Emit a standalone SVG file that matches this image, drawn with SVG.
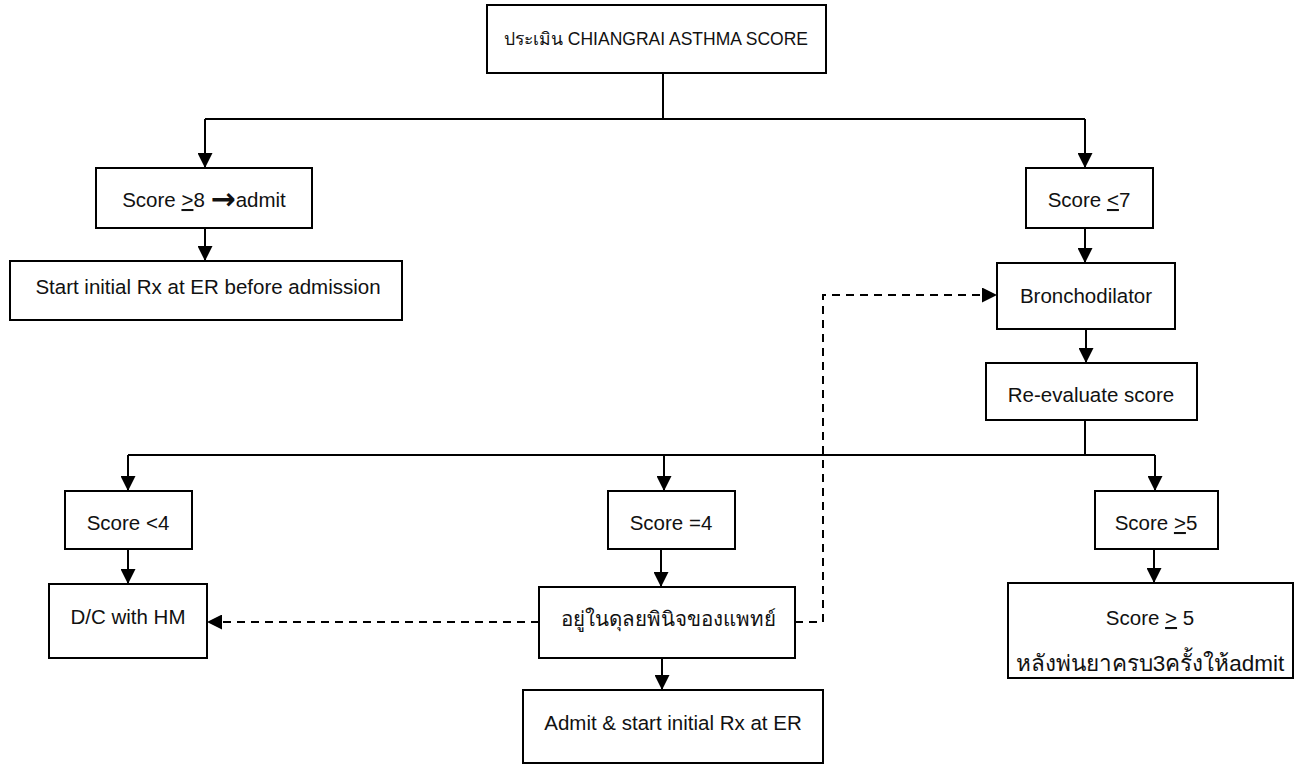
<svg xmlns="http://www.w3.org/2000/svg" width="1301" height="764" viewBox="0 0 1301 764">
  <style>
    .box { fill: #ffffff; stroke: #000000; stroke-width: 2; }
    .t { font-family: "Liberation Sans", "Noto Sans", sans-serif; font-size: 20.5px; fill: #111111; text-anchor: middle; }
    .top { font-size: 17.5px; }
    .big { font-size: 22.5px; }
    .u { text-decoration: underline; }
    .ln { fill: none; stroke: #000000; stroke-width: 2; }
    .arr { marker-end: url(#ah); }
    .dash { stroke-dasharray: 8 6; }
  </style>
  <defs>
    <marker id="ah" viewBox="0 0 15 15" refX="15" refY="7.5" markerWidth="15" markerHeight="15" markerUnits="userSpaceOnUse" orient="auto">
      <path d="M0,0 L15,7.5 L0,15 z" fill="#000000"/>
    </marker>
  </defs>
  <rect width="1301" height="764" fill="#ffffff"/>

  <g id="connectors">
    <path class="ln" d="M663,73 V119"/>
    <path class="ln" d="M205,119 H1085"/>
    <path class="ln arr" d="M205,119 V168"/>
    <path class="ln arr" d="M1085,119 V168"/>
    <path class="ln arr" d="M205,228 V261"/>
    <path class="ln arr" d="M1085,228 V263"/>
    <path class="ln arr" d="M1086,329 V363"/>
    <path class="ln" d="M1085,420 V455"/>
    <path class="ln" d="M128,455 H1155"/>
    <path class="ln arr" d="M128,455 V491"/>
    <path class="ln arr" d="M664,455 V491"/>
    <path class="ln arr" d="M1155,455 V491"/>
    <path class="ln arr" d="M128,549 V584"/>
    <path class="ln arr" d="M661,549 V587"/>
    <path class="ln arr" d="M662,658 V690"/>
    <path class="ln arr" d="M1154,549 V583"/>
    <path class="ln arr dash" d="M539,622 H207"/>
    <path class="ln arr dash" d="M795,622 H823 V295 H997"/>
  </g>

  <g id="n-assess">
    <rect class="box" x="487" y="5" width="339" height="68"/>
    <text class="t top" x="656" y="45">ประเมิน CHIANGRAI ASTHMA SCORE</text>
  </g>
  <g id="n-score8">
    <rect class="box" x="96" y="168" width="216" height="60"/>
    <text class="t" x="204" y="207">Score <tspan class="u">&gt;</tspan>8 <tspan font-family="DejaVu Sans" font-weight="bold" font-size="30" dy="2">→</tspan><tspan dy="-2">admit</tspan></text>
  </g>
  <g id="n-startinitial">
    <rect class="box" x="10" y="261" width="392" height="59"/>
    <text class="t" x="208" y="294">Start initial Rx at ER before admission</text>
  </g>
  <g id="n-score7">
    <rect class="box" x="1026" y="168" width="127" height="60"/>
    <text class="t" x="1089" y="207">Score <tspan class="u">&lt;</tspan>7</text>
  </g>
  <g id="n-broncho">
    <rect class="box" x="997" y="263" width="178" height="66"/>
    <text class="t" x="1086" y="303">Bronchodilator</text>
  </g>
  <g id="n-reeval">
    <rect class="box" x="986" y="363" width="211" height="57"/>
    <text class="t" x="1091" y="402">Re-evaluate score</text>
  </g>
  <g id="n-lt4">
    <rect class="box" x="65" y="491" width="127" height="58"/>
    <text class="t" x="128" y="530">Score &lt;4</text>
  </g>
  <g id="n-dc">
    <rect class="box" x="49" y="584" width="158" height="74"/>
    <text class="t" x="128" y="624">D/C with HM</text>
  </g>
  <g id="n-eq4">
    <rect class="box" x="608" y="491" width="127" height="58"/>
    <text class="t" x="671" y="530">Score =4</text>
  </g>
  <g id="n-discretion">
    <rect class="box" x="539" y="587" width="256" height="71"/>
    <text class="t" x="668" y="626">อยู่ในดุลยพินิจของแพทย์</text>
  </g>
  <g id="n-admit">
    <rect class="box" x="523" y="690" width="300" height="73"/>
    <text class="t" x="673" y="730">Admit &amp; start initial Rx at ER</text>
  </g>
  <g id="n-ge5">
    <rect class="box" x="1095" y="491" width="123" height="58"/>
    <text class="t" x="1156" y="530">Score <tspan class="u">&gt;</tspan>5</text>
  </g>
  <g id="n-ge5admit">
    <rect class="box" x="1008" y="583" width="285" height="95"/>
    <text class="t" x="1150" y="625">Score <tspan class="u">&gt;</tspan> 5</text>
    <text class="t big" x="1150" y="671">หลังพ่นยาครบ3ครั้งให้admit</text>
  </g>
</svg>
